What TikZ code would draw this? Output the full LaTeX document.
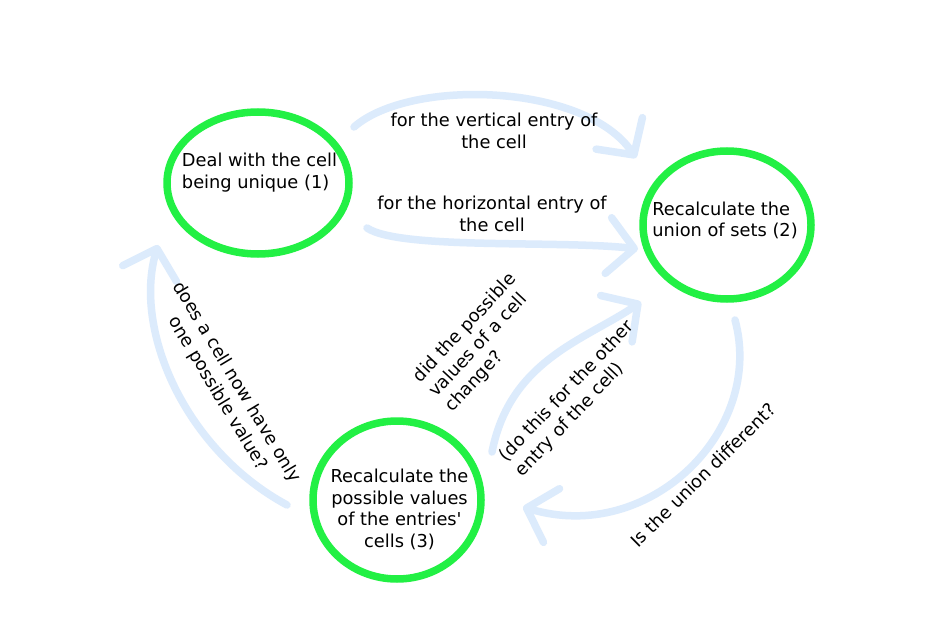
\documentclass[tikz,border=0pt]{standalone}
\usepackage{fontspec}
\setmainfont{DejaVu Sans}
\usetikzlibrary{shapes.geometric,arrows.meta}
\definecolor{ringgreen}{RGB}{34,240,68}
\definecolor{flowblue}{RGB}{220,235,252}
\tikzset{
  ring/.style={ellipse, draw=ringgreen, line width=7.5pt, inner sep=0pt},
  lbl/.style={font=\fontsize{17.8}{21.8}\selectfont, inner sep=0pt, text=black},
  flow/.style={draw=flowblue, line width=7.5pt, line cap=round, line join=round,
    -{Straight Barb[length=26pt,width=56pt,round]}},
}
\begin{document}
\begin{tikzpicture}[x=1pt,y=-1pt]
\useasboundingbox[fill=white] (0,0) rectangle (942,636);

% circles
\node[ring, minimum width=182pt, minimum height=142pt] (c1) at (258,183) {};
\node[ring, minimum width=168pt, minimum height=148pt] (c2) at (727,225) {};
\node[ring, minimum width=168pt, minimum height=158pt] (c3) at (397,500) {};

\node[lbl, align=left] (t1) at (259.5,172.5) {Deal with the cell\\being unique (1)};
\node[lbl, align=left] (t2) at (725,220.5) {Recalculate the\\union of sets (2)};
\node[lbl, align=center] (t3) at (399.5,509.5) {Recalculate the\\possible values\\of the entries\textquotesingle\\cells (3)};

% connector end points
\coordinate (a1) at (354,127);
\coordinate (a2) at (636,158);
\coordinate (b1) at (367,228);
\coordinate (b2) at (638,249);
\coordinate (e1) at (287,505);
\coordinate (e2) at (158,245);
\coordinate (d1) at (492,452);
\coordinate (d2) at (641,302);
\coordinate (f1) at (735,320);
\coordinate (f2) at (523,507);

% connectors
\draw[flow] (a1) .. controls (410,78) and (585,83) .. (a2);
\draw[flow] (b1) .. controls (400,250) and (560,240) .. (b2);
\draw[flow] (e1) .. controls (185,450) and (133,330) .. (e2);
\draw[flow] (d1) .. controls (510,360) and (585,340) .. (d2);
\draw[flow] (f1) .. controls (765,430) and (650,545) .. (f2);

% connector labels
\node[lbl, align=center] (l1) at (494,131) {for the vertical entry of\\the cell};
\node[lbl, align=center] (l2) at (492,213.5) {for the horizontal entry of\\the cell};
\node[lbl, align=center, rotate=-59] (l3) at (227,388) {does a cell now have only\\one possible value?};
\node[lbl, align=left, rotate=47] (l4) at (481,343) {did the possible\\values of a cell\\change?};
\node[lbl, align=left, rotate=46.6] (l5) at (575,399) {(do this for the other\\entry of the cell)};
\node[lbl, align=center, rotate=44.6] (l6) at (703,475) {Is the union different?};
\end{tikzpicture}
\end{document}
